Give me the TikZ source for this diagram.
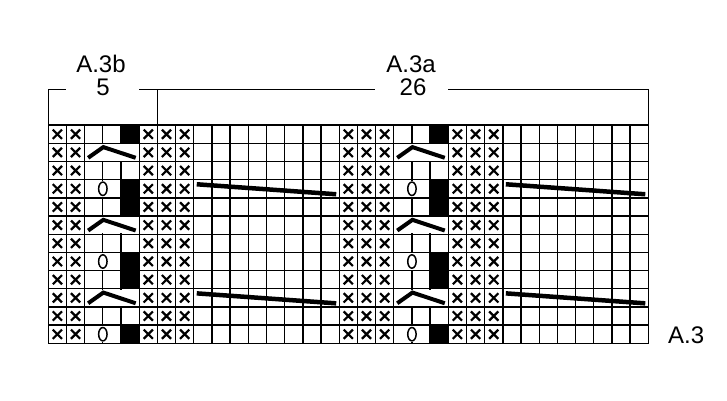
\documentclass[tikz,border=0pt]{standalone}
\usepackage{fontspec}
\setmainfont{Liberation Sans}
\begin{document}
\begin{tikzpicture}[x=1pt,y=-1pt,
  gridline/.style={line width=1.3pt},
  xmark/.style={line width=2.2pt},
  symline/.style={line width=4pt, line join=miter},
  decline/.style={line width=4.5pt},
  lbl/.style={font=\fontsize{24}{28}\selectfont, inner sep=0pt, anchor=base}]
\useasboundingbox (0,0) rectangle (727,400);
\pgfmathsetmacro{\gl}{48.3}
\pgfmathsetmacro{\gt}{125.12}
\pgfmathsetmacro{\cw}{18.1818}
\pgfmathsetmacro{\gr}{\gl+33*\cw}
\pgfmathsetmacro{\gb}{\gt+12*\cw}
\pgfmathsetmacro{\gm}{\gl+6*\cw}
% grid
\foreach \i in {0,...,33}
  \draw[gridline] ({\gl+\i*\cw},\gt) -- ({\gl+\i*\cw},\gb);
\foreach \j in {0,...,12}
  \draw[gridline] (\gl,{\gt+\j*\cw}) -- (\gr,{\gt+\j*\cw});
\draw[gridline] (\gl,\gt) rectangle (\gr,\gb);
% merged cells
\foreach \o in {0,17} {
  \foreach \r in {1,5,9}
    \fill[white] ({\gl+(\o+2)*\cw+0.9},{\gt+\r*\cw+0.9}) rectangle ({\gl+(\o+5)*\cw-0.9},{\gt+(\r+1)*\cw-0.9});
  \foreach \r in {3,7,11}
    \fill[white] ({\gl+(\o+2)*\cw+0.9},{\gt+\r*\cw+0.9}) rectangle ({\gl+(\o+4)*\cw-0.9},{\gt+(\r+1)*\cw-0.9});
  % black cells
  \foreach \r in {0,3,4,7,8,11}
    \fill[black] ({\gl+(\o+4)*\cw},{\gt+\r*\cw}) rectangle ({\gl+(\o+5)*\cw},{\gt+(\r+1)*\cw});
  % chevrons
  \foreach \r in {1,5,9}
    \draw[symline] ({\gl+(\o+2)*\cw+3.5},{\gt+\r*\cw+14.5}) -- ({\gl+(\o+3)*\cw+0.5},{\gt+\r*\cw+3.8}) -- ({\gl+(\o+5)*\cw-3.5},{\gt+\r*\cw+14.5});
  % ovals
  \foreach \r in {3,7,11}
    \draw[line width=1.5pt] ({\gl+(\o+3)*\cw},{\gt+(\r+0.5)*\cw}) ellipse [x radius=4.2pt, y radius=6.7pt];
}
% long decrease lines
\foreach \s in {8,25}
  \foreach \r in {3,9}
    \draw[decline] ({\gl+\s*\cw+3},{\gt+\r*\cw+4.6}) -- ({\gl+(\s+8)*\cw-3},{\gt+\r*\cw+14.6});
% x marks
\foreach \col in {0,1,5,6,7,16,17,18,22,23,24}
  \foreach \r in {0,...,11} {
    \pgfmathsetmacro{\cx}{\gl+(\col+0.5)*\cw}
    \pgfmathsetmacro{\cy}{\gt+(\r+0.5)*\cw}
    \draw[xmark, shift={(\cx,\cy)}] (-4.6,-4.6) -- (4.6,4.6) (-4.6,4.6) -- (4.6,-4.6);
  }
% brackets
\draw[gridline] (\gl,\gt) -- (\gl,89.3) -- (66,89.3);
\draw[gridline] (139,89.3) -- (\gm,89.3) -- (\gm,\gt);
\draw[gridline] (\gm,89.3) -- (375,89.3);
\draw[gridline] (448,89.3) -- (\gr,89.3) -- (\gr,\gt);
% labels
\node[lbl] (a3b) at (101,72) {A.3b};
\node[lbl] (n5) at (103,95) {5};
\node[lbl] (a3a) at (411,72) {A.3a};
\node[lbl] (n26) at (413,95) {26};
\node[lbl, anchor=base west] (a3) at (668,343.3) {A.3};
\end{tikzpicture}
\end{document}
